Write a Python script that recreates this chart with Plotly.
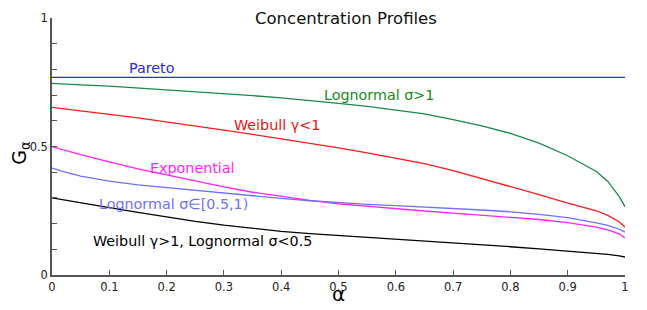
import plotly.graph_objects as go

alpha = [0, 0.02, 0.05, 0.1, 0.15, 0.2, 0.25, 0.3, 0.35, 0.4, 0.45, 0.5, 0.55, 0.6, 0.65,
         0.7, 0.75, 0.8, 0.85, 0.9, 0.93, 0.95, 0.97, 0.99, 1.0]

pareto = [0.769] * len(alpha)
lognormal_gt1 = [0.746, 0.743, 0.740, 0.735, 0.728, 0.721, 0.714, 0.707, 0.698, 0.689, 0.679, 0.668,
                 0.656, 0.642, 0.627, 0.605, 0.580, 0.551, 0.513, 0.464, 0.429, 0.403, 0.364, 0.305, 0.266]
weibull_lt1 = [0.652, 0.647, 0.640, 0.625, 0.611, 0.596, 0.580, 0.564, 0.547, 0.530, 0.513, 0.495,
               0.475, 0.455, 0.433, 0.406, 0.376, 0.345, 0.313, 0.280, 0.262, 0.250, 0.232, 0.206, 0.187]
exponential = [0.500, 0.487, 0.468, 0.440, 0.413, 0.390, 0.366, 0.343, 0.322, 0.305, 0.290, 0.277,
               0.267, 0.257, 0.249, 0.241, 0.233, 0.225, 0.216, 0.204, 0.194, 0.186, 0.176, 0.160, 0.144]
lognormal_mid = [0.416, 0.402, 0.385, 0.365, 0.351, 0.340, 0.330, 0.319, 0.308, 0.298, 0.289, 0.281,
                 0.275, 0.270, 0.265, 0.259, 0.253, 0.246, 0.236, 0.223, 0.212, 0.203, 0.193, 0.178, 0.167]
weibull_gt1 = [0.300, 0.292, 0.280, 0.262, 0.244, 0.226, 0.209, 0.194, 0.181, 0.170, 0.161, 0.154,
               0.147, 0.140, 0.133, 0.126, 0.118, 0.110, 0.102, 0.094, 0.089, 0.085, 0.080, 0.074, 0.070]

x_ticks = [0, 0.1, 0.2, 0.3, 0.4, 0.5, 0.6, 0.7, 0.8, 0.9, 1]
x_tick_labels = ["0", "0.1", "0.2", "0.3", "0.4", "0.5", "0.6", "0.7", "0.8", "0.9", "1"]
y_ticks = [0, 0.5, 1]
y_tick_labels = ["0", "0.5", "1"]
y_minor_ticks = [0, 0.1, 0.2, 0.3, 0.4, 0.5, 0.6, 0.7, 0.8, 0.9, 1]

series = [
    ("Pareto", pareto, "#2a2ae0"),
    ("Lognormal σ>1", lognormal_gt1, "#1a8a4a"),
    ("Weibull γ<1", weibull_lt1, "#ff1a1a"),
    ("Exponential", exponential, "#ff22ff"),
    ("Lognormal σ∈[0.5,1)", lognormal_mid, "#7070ff"),
    ("Weibull γ>1, Lognormal σ<0.5", weibull_gt1, "#000000"),
]

labels = [
    ("Pareto", 0.1745, 0.805, "#2a2ae0"),
    ("Lognormal σ>1", 0.571, 0.700, "#1a8a1a"),
    ("Weibull γ<1", 0.392, 0.584, "#ee1111"),
    ("Exponential", 0.245, 0.416, "#ff22ff"),
    ("Lognormal σ∈[0.5,1)", 0.212, 0.276, "#7070ff"),
    ("Weibull γ>1, Lognormal σ<0.5", 0.263, 0.132, "#000000"),
]

fig = go.Figure()
for name, ys, color in series:
    fig.add_trace(go.Scatter(x=alpha, y=ys, mode="lines", name=name,
                             line=dict(color=color, width=1.3),
                             hoverinfo="skip", showlegend=False))

font_family = "DejaVu Sans"
for text, x, y, color in labels:
    fig.add_annotation(x=x, y=y, xref="x", yref="y", text=text, showarrow=False,
                       font=dict(family=font_family, size=14.3, color=color))

fig.add_annotation(x=1.035, y=0.039, xref="x", yref="y", text="scale is not representative",
                   showarrow=False, xanchor="right",
                   font=dict(family=font_family, size=9, color="#000000"))

fig.add_annotation(x=0.513, y=1.0, xref="paper", yref="paper", text="Concentration Profiles",
                   showarrow=False, xanchor="center", yanchor="middle",
                   font=dict(family=font_family, size=16.5, color="#111111"))

fig.add_annotation(x=-0.0545, y=0.475, xref="paper", yref="paper", text="G<sub>α</sub>",
                   showarrow=False, textangle=-90, xanchor="center", yanchor="middle",
                   font=dict(family=font_family, size=19, color="#000000"))

fig.add_annotation(x=0.5, y=-0.072, xref="paper", yref="paper", text="α",
                   showarrow=False, xanchor="center", yanchor="middle",
                   font=dict(family=font_family, size=20, color="#000000"))

fig.update_layout(
    width=639, height=302,
    margin=dict(l=44, r=22, t=10, b=35),
    paper_bgcolor="white", plot_bgcolor="white",
    font=dict(family=font_family, size=11.5, color="#222222"),
    xaxis=dict(range=[0, 1], tickvals=x_ticks, ticktext=x_tick_labels,
               ticks="inside", ticklen=5, tickcolor="#555555", tickwidth=1,
               showline=True, linecolor="#555555", linewidth=1.5,
               showgrid=False, zeroline=False, automargin=False),
    yaxis=dict(range=[0, 1], tickvals=y_ticks, ticktext=y_tick_labels,
               ticks="inside", ticklen=5, tickcolor="#555555", tickwidth=1,
               minor=dict(tickvals=y_minor_ticks, ticks="inside", ticklen=5,
                          tickcolor="#555555", tickwidth=1, showgrid=False),
               showline=True, linecolor="#555555", linewidth=1.5,
               showgrid=False, zeroline=False, automargin=False),
)

fig.write_html("out.html")
